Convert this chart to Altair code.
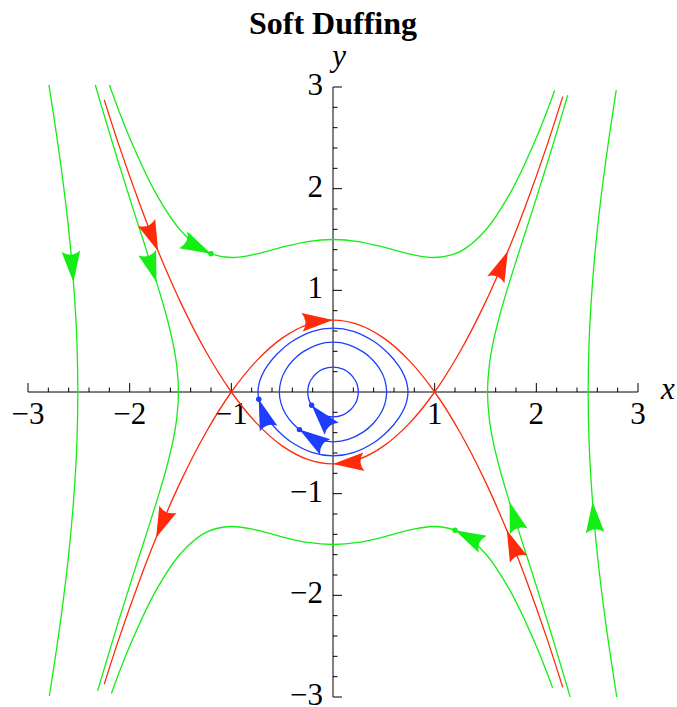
import math

import altair as alt
import pandas as pd

# ---------------------------------------------------------------------------
# Phase portrait of the soft Duffing oscillator  x' = y,  y' = -x + x^3
# ---------------------------------------------------------------------------

# Separatrix arching over the centre, through (0, +0.707), tails run downward
SEP_TOP_X = [-2.25, -2.1, -1.9, -1.75, -1.5, -1.25, -1.0, -0.75, -0.5, -0.25, 0.0,
             0.25, 0.5, 0.75, 1.0, 1.25, 1.5, 1.75, 1.9, 2.1, 2.26]
SEP_TOP_Y = [-2.873, -2.411, -1.846, -1.458, -0.884, -0.398, 0.0, 0.309, 0.530, 0.663, 0.707,
             0.663, 0.530, 0.309, 0.0, -0.398, -0.884, -1.458, -1.846, -2.411, -2.905]

# Separatrix under the centre, through (0, -0.707), tails run upward
SEP_BOT_X = [-2.25, -2.1, -1.9, -1.75, -1.5, -1.25, -1.0, -0.75, -0.5, -0.25, 0.0,
             0.25, 0.5, 0.75, 1.0, 1.25, 1.5, 1.75, 1.9, 2.1, 2.26]
SEP_BOT_Y = [2.873, 2.411, 1.846, 1.458, 0.884, 0.398, 0.0, -0.309, -0.530, -0.663, -0.707,
             -0.663, -0.530, -0.309, 0.0, 0.398, 0.884, 1.458, 1.846, 2.411, 2.905]

# Open orbit passing over the top, through (0, 1.5)
UPPER_X = [-2.2, -2.1, -2.0, -1.75, -1.5, -1.25, -1.0, -0.75, -0.5, -0.25, 0.0,
           0.25, 0.5, 0.75, 1.0, 1.25, 1.5, 1.75, 2.0, 2.1, 2.18]
UPPER_Y = [3.020, 2.750, 2.500, 1.969, 1.591, 1.381, 1.323, 1.359, 1.425, 1.480, 1.500,
           1.480, 1.425, 1.359, 1.323, 1.381, 1.591, 1.969, 2.500, 2.750, 2.965]

# Open orbit passing underneath, through (0, -1.5)
LOWER_X = [-2.18, -2.1, -2.0, -1.75, -1.5, -1.25, -1.0, -0.75, -0.5, -0.25, 0.0,
           0.25, 0.5, 0.75, 1.0, 1.25, 1.5, 1.75, 2.0, 2.1, 2.16]
LOWER_Y = [-2.965, -2.750, -2.500, -1.969, -1.591, -1.381, -1.323, -1.359, -1.425, -1.480, -1.500,
           -1.480, -1.425, -1.359, -1.323, -1.381, -1.591, -1.969, -2.500, -2.750, -2.910]

# Open orbits crossing the x axis at x = -1.52 and x = +1.52
SIDE_L_Y = [3.02, 2.75, 2.5, 2.25, 2.0, 1.75, 1.5, 1.25, 1.0, 0.75, 0.5, 0.25, 0.0,
            -0.25, -0.5, -0.75, -1.0, -1.25, -1.5, -1.75, -2.0, -2.25, -2.5, -2.75, -2.94]
SIDE_L_X = [-2.338, -2.259, -2.184, -2.108, -2.029, -1.950, -1.869, -1.789, -1.711, -1.639,
            -1.578, -1.536, -1.520, -1.536, -1.578, -1.639, -1.711, -1.789, -1.869, -1.950,
            -2.029, -2.108, -2.184, -2.259, -2.315]
SIDE_R_Y = [2.92, 2.75, 2.5, 2.25, 2.0, 1.75, 1.5, 1.25, 1.0, 0.75, 0.5, 0.25, 0.0,
            -0.25, -0.5, -0.75, -1.0, -1.25, -1.5, -1.75, -2.0, -2.25, -2.5, -2.75, -3.0]
SIDE_R_X = [2.309, 2.259, 2.184, 2.108, 2.029, 1.950, 1.869, 1.789, 1.711, 1.639,
            1.578, 1.536, 1.520, 1.536, 1.578, 1.639, 1.711, 1.789, 1.869, 1.950,
            2.029, 2.108, 2.184, 2.259, 2.333]

# Outermost open orbits crossing the x axis at x = -2.51 and x = +2.51
FAR_L_Y = [3.02, 2.5, 2.0, 1.5, 1.0, 0.5, 0.0, -0.5, -1.0, -1.5, -2.0, -2.5, -2.99]
FAR_L_X = [-2.794, -2.715, -2.647, -2.590, -2.547, -2.519, -2.510, -2.519, -2.547, -2.590,
           -2.647, -2.715, -2.790]
FAR_R_Y = [2.97, 2.5, 2.0, 1.5, 1.0, 0.5, 0.0, -0.5, -1.0, -1.5, -2.0, -2.5, -3.0]
FAR_R_X = [2.786, 2.715, 2.647, 2.590, 2.547, 2.519, 2.510, 2.519, 2.547, 2.590,
           2.647, 2.715, 2.791]

# Closed orbits around the centre at the origin
LOOP_OUT_X = [-0.738, -0.725, -0.7, -0.65, -0.55, -0.4, -0.2, 0.0, 0.2, 0.4, 0.55, 0.65, 0.7, 0.725,
              0.738, 0.725, 0.7, 0.65, 0.55, 0.4, 0.2, 0.0, -0.2, -0.4, -0.55, -0.65, -0.7, -0.725]
LOOP_OUT_Y = [0.0, 0.092, 0.161, 0.251, 0.373, 0.499, 0.597, 0.629, 0.597, 0.499, 0.373, 0.251, 0.161, 0.092,
              0.0, -0.092, -0.161, -0.251, -0.373, -0.499, -0.597, -0.629, -0.597, -0.499, -0.373, -0.251,
              -0.161, -0.092]
LOOP_MID_X = [-0.528, -0.51, -0.47, -0.4, -0.3, -0.15, 0.0, 0.15, 0.3, 0.4, 0.47, 0.51,
              0.528, 0.51, 0.47, 0.4, 0.3, 0.15, 0.0, -0.15, -0.3, -0.4, -0.47, -0.51]
LOOP_MID_Y = [0.0, 0.117, 0.209, 0.305, 0.392, 0.467, 0.490, 0.467, 0.392, 0.305, 0.209, 0.117,
              0.0, -0.117, -0.209, -0.305, -0.392, -0.467, -0.490, -0.467, -0.392, -0.305, -0.209, -0.117]
LOOP_IN_X = [-0.249, -0.24, -0.22, -0.17, -0.1, 0.0, 0.1, 0.17, 0.22, 0.24,
             0.249, 0.24, 0.22, 0.17, 0.1, 0.0, -0.1, -0.17, -0.22, -0.24]
LOOP_IN_Y = [0.0, 0.064, 0.113, 0.177, 0.224, 0.245, 0.224, 0.177, 0.113, 0.064,
             0.0, -0.064, -0.113, -0.177, -0.224, -0.245, -0.224, -0.177, -0.113, -0.064]

# Flow-direction arrowheads: tip position and a point just behind it on the same orbit
ARROW_FAMILY = ["separatrix"] * 6 + ["unbounded"] * 6 + ["bounded"] * 3
ARROW_TIP_X = [0.0, 0.0, -1.72, -1.74, 1.72, 1.71,
               -1.2, 1.2, -1.736, 1.736, -2.553, 2.553,
               -0.73, -0.33, -0.21]
ARROW_TIP_Y = [0.707, -0.707, 1.385, -1.434, 1.385, -1.361,
               1.36, -1.36, 1.08, -1.08, 1.08, -1.08,
               -0.071, -0.37, -0.13]
ARROW_BACK_X = [-0.1, 0.1, -1.8, -1.66, 1.64, 1.79,
                -1.3, 1.3, -1.805, 1.805, -2.571, 2.571,
                -0.7, -0.25, -0.17]
ARROW_BACK_Y = [0.700, -0.700, 1.584, -1.241, 1.195, -1.558,
                1.41, -1.41, 1.3, -1.3, 1.3, -1.3,
                -0.161, -0.424, -0.177]

# Initial conditions marked with a dot
START_FAMILY = ["unbounded", "unbounded", "bounded", "bounded", "bounded"]
START_X = [-1.2, 1.2, -0.73, -0.33, -0.21]
START_Y = [1.36, -1.36, -0.071, -0.37, -0.13]

# Axis ticks
MAJOR_TICKS = [-3, -2, -1, 1, 2, 3]
MAJOR_LABELS = ["\u22123", "\u22122", "\u22121", "1", "2", "3"]
MINOR_TICKS = [-2.8, -2.6, -2.4, -2.2, -1.8, -1.6, -1.4, -1.2, -0.8, -0.6, -0.4, -0.2,
               0.2, 0.4, 0.6, 0.8, 1.2, 1.4, 1.6, 1.8, 2.2, 2.4, 2.6, 2.8]
AXIS_LO, AXIS_HI = -3, 3

FAMILIES = ["separatrix", "unbounded", "bounded"]
COLORS = ["#ff2a0a", "#14ee14", "#1f3dff"]
SERIF = "Liberation Serif"
LABEL_SIZE = 31

open_curves = [
    ("sep_top", "separatrix", SEP_TOP_X, SEP_TOP_Y),
    ("sep_bot", "separatrix", SEP_BOT_X, SEP_BOT_Y),
    ("upper", "unbounded", UPPER_X, UPPER_Y),
    ("lower", "unbounded", LOWER_X, LOWER_Y),
    ("side_l", "unbounded", SIDE_L_X, SIDE_L_Y),
    ("side_r", "unbounded", SIDE_R_X, SIDE_R_Y),
    ("far_l", "unbounded", FAR_L_X, FAR_L_Y),
    ("far_r", "unbounded", FAR_R_X, FAR_R_Y),
]
closed_curves = [
    ("loop_out", "bounded", LOOP_OUT_X, LOOP_OUT_Y),
    ("loop_mid", "bounded", LOOP_MID_X, LOOP_MID_Y),
    ("loop_in", "bounded", LOOP_IN_X, LOOP_IN_Y),
]


def curve_table(curves):
    rows = []
    for name, family, xs, ys in curves:
        for k, (x, y) in enumerate(zip(xs, ys)):
            rows.append({"curve": name, "family": family, "i": k, "x": x, "y": y})
    return pd.DataFrame(rows)


def heading(tx, ty, bx, by):
    # clockwise screen angle of the travel direction (x and y share one pixel scale)
    return math.degrees(math.atan2(-(ty - by), tx - bx)) % 360


open_df = curve_table(open_curves)
closed_df = curve_table(closed_curves)
arrow_df = pd.DataFrame({
    "family": ARROW_FAMILY,
    "x": ARROW_TIP_X,
    "y": ARROW_TIP_Y,
    "angle": [heading(*a) for a in zip(ARROW_TIP_X, ARROW_TIP_Y, ARROW_BACK_X, ARROW_BACK_Y)],
})
start_df = pd.DataFrame({"family": START_FAMILY, "x": START_X, "y": START_Y})
major_df = pd.DataFrame({"t": MAJOR_TICKS, "label": MAJOR_LABELS, "zero": 0})
minor_df = pd.DataFrame({"t": MINOR_TICKS, "zero": 0})
axis_df = pd.DataFrame({"lo": [AXIS_LO], "hi": [AXIS_HI], "zero": [0]})
x_name_df = pd.DataFrame({"x": [AXIS_HI], "y": [0], "name": ["x"]})
y_name_df = pd.DataFrame({"x": [0], "y": [AXIS_HI], "name": ["y"]})

xs = alt.Scale(domain=[AXIS_LO, AXIS_HI], nice=False, zero=False)
ys = alt.Scale(domain=[AXIS_LO, AXIS_HI], nice=False, zero=False)
color = alt.Color("family:N", scale=alt.Scale(domain=FAMILIES, range=COLORS), legend=None)


def X(field):
    return alt.X(field, scale=xs, axis=None)


def Y(field):
    return alt.Y(field, scale=ys, axis=None)


# axes through the origin, ticks pointing into the upper / right side
x_axis = alt.Chart(axis_df).mark_rule(color="black", strokeWidth=1).encode(
    x=X("lo:Q"), x2="hi:Q", y=Y("zero:Q"))
y_axis = alt.Chart(axis_df).mark_rule(color="black", strokeWidth=1).encode(
    y=Y("lo:Q"), y2="hi:Q", x=X("zero:Q"))

x_major = alt.Chart(major_df).mark_rule(color="black", strokeWidth=1, y2Offset=-9).encode(
    x=X("t:Q"), y=Y("zero:Q"), y2="zero:Q")
x_minor = alt.Chart(minor_df).mark_rule(color="black", strokeWidth=1, y2Offset=-4.5).encode(
    x=X("t:Q"), y=Y("zero:Q"), y2="zero:Q")
y_major = alt.Chart(major_df).mark_rule(color="black", strokeWidth=1, x2Offset=9).encode(
    y=Y("t:Q"), x=X("zero:Q"), x2="zero:Q")
y_minor = alt.Chart(minor_df).mark_rule(color="black", strokeWidth=1, x2Offset=4.5).encode(
    y=Y("t:Q"), x=X("zero:Q"), x2="zero:Q")

x_labels = alt.Chart(major_df).mark_text(
    font=SERIF, fontSize=LABEL_SIZE, color="black", align="center", baseline="alphabetic", dy=32
).encode(x=X("t:Q"), y=Y("zero:Q"), text="label:N")
y_labels = alt.Chart(major_df).mark_text(
    font=SERIF, fontSize=LABEL_SIZE, color="black", align="right", baseline="alphabetic", dx=-10, dy=8
).encode(y=Y("t:Q"), x=X("zero:Q"), text="label:N")

x_name = alt.Chart(x_name_df).mark_text(
    font=SERIF, fontSize=LABEL_SIZE, fontStyle="italic", color="black",
    align="left", baseline="alphabetic", dx=23, dy=7
).encode(x=X("x:Q"), y=Y("y:Q"), text="name:N")
y_name = alt.Chart(y_name_df).mark_text(
    font=SERIF, fontSize=LABEL_SIZE, fontStyle="italic", color="black",
    align="center", baseline="alphabetic", dx=6, dy=-21
).encode(x=X("x:Q"), y=Y("y:Q"), text="name:N")

open_lines = alt.Chart(open_df).mark_line(interpolate="catmull-rom", strokeWidth=1.3).encode(
    x=X("x:Q"), y=Y("y:Q"), detail="curve:N", order="i:Q", color=color)
closed_lines = alt.Chart(closed_df).mark_line(interpolate="cardinal-closed", strokeWidth=1.3).encode(
    x=X("x:Q"), y=Y("y:Q"), detail="curve:N", order="i:Q", color=color)

# arrowhead with its tip at the origin of the symbol, concave back edge
ARROW_SHAPE = "M0,0L-2,-0.6Q-1.55,0,-2,0.6Z"
arrows = alt.Chart(arrow_df).mark_point(
    shape=ARROW_SHAPE, filled=True, size=960, opacity=1, strokeWidth=0
).encode(x=X("x:Q"), y=Y("y:Q"), angle=alt.Angle("angle:Q", scale=None), color=color)

starts = alt.Chart(start_df).mark_circle(size=30, opacity=1).encode(
    x=X("x:Q"), y=Y("y:Q"), color=color)

chart = alt.layer(
    x_axis, y_axis, x_major, x_minor, y_major, y_minor, x_labels, y_labels, x_name, y_name,
    open_lines, closed_lines, arrows, starts,
).properties(
    width=610,
    height=610,
    autosize="none",
    padding={"left": 28, "top": 87, "right": 39, "bottom": 10},
    background="white",
    title=alt.Title("Soft Duffing", font=SERIF, fontSize=32, fontWeight="bold", color="black",
                    anchor="middle", frame="group", offset=0),
).configure_view(strokeWidth=0, stroke=None)

chart.save("out.html", embed_options={"renderer": "svg", "actions": False})
